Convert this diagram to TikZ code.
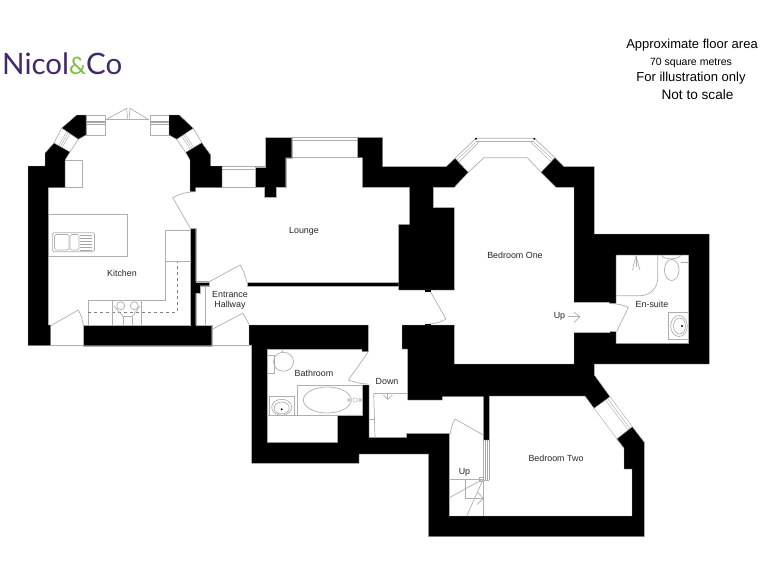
\documentclass[tikz,border=0pt]{standalone}
\usepackage{fontspec}
\usetikzlibrary{calc}
\setmainfont{Liberation Sans}
\newfontfamily\logofont{Lato}
\definecolor{logopurple}{RGB}{66, 42, 104}
\definecolor{logogreen}{RGB}{125, 190, 60}
\definecolor{fixline}{RGB}{175, 175, 175}
\tikzset{
	wall/.style={fill=black, draw=fixline, line width=0.4pt},
	fix/.style={draw=fixline, line width=0.7pt},
	dashfix/.style={draw=gray, line width=0.5pt, dashed},
	pane/.style={draw=gray!70, line width=0.4pt},
	room/.style={font=\fontsize{8.9}{10}\selectfont, text=black!85, inner sep=0pt, align=center},
	note/.style={font=\fontsize{13}{15}\selectfont, inner sep=0pt}
}
\begin{document}
\begin{tikzpicture}[x=1pt, y=-1pt]
			\useasboundingbox (0,0) rectangle (768,576);

			% logo
			\node[inner sep=0pt, anchor=west, font=\logofont\fontsize{29.5}{31}\selectfont, text=logopurple] (logo) at (2,64) {Nicol\textcolor{logogreen}{\fontsize{24}{26}\selectfont\&}Co};

			% notes
			\node[note] (area) at (692,45.5) {Approximate floor area};
			\node[note, font=\fontsize{10.5}{12}\selectfont] (sqm) at (691,63) {70 square metres};
			\node[note] (illus) at (691,78.5) {For illustration only};
			\node[note, font=\fontsize{13.6}{15}\selectfont] (scale) at (697.5,95) {Not to scale};

			% kitchen fittings
			\draw[fix] (65,160) -- (82.3,160) -- (82.3,187.7) -- (48.3,187.7);
			\draw[fix] (48.3,214.3) rectangle (127.3,256);
			\draw[fix, rounded corners=1.5] (52.3,232.7) rectangle (94.5,251.7);
			\draw[fix, rounded corners=1.5] (54.5,234.5) rectangle (69,250);
			\draw[fix, rounded corners=1.5] (70,234.5) rectangle (79,250);
			\foreach \y in {235,238,241,244,247,250} {
				\draw[pane] (80,\y) -- (92,\y);
			}
			\draw[fix] (165,261.7) rectangle (190,230);
			\draw[fix] (88.3,325) -- (88.3,300.7) -- (165,300.7) -- (165,261.7);
			\draw[dashfix] (88.3,312.3) -- (177.3,312.3) -- (177.3,261.7);
			\draw[fix] (112.7,325) -- (112.7,300.7);
			\draw[fix] (141.7,325) -- (141.7,300.7);
			\foreach \x in {120.7,134.3} {
				\draw[fix] (\x,305.7) circle (4);
			}
			\draw[fix] (114,306) -- (123,316.5) -- (132,316.5) -- (140,306);
			\draw[fix] (123,316.5) -- (123,325);
			\draw[fix] (132,316.5) -- (132,325);

			% kitchen doors and windows
			\draw[fix] (50.7,325.7) -- (78.3,310) .. controls (81,315) and (82.5,320) .. (83.3,325);
			\draw[fix] (50.7,345.7) -- (83.3,345.7);
			\draw[fix] (190,227.7) -- (172.7,197.7) .. controls (179,194) and (187,192) .. (195.7,191.7);
			\draw[fix] (86,115) rectangle (105.3,135);
			\draw[fix] (150.3,115) rectangle (169,135);
			\foreach \y in {121,122.5,124} {
				\draw[pane] (86,\y) -- (105.3,\y);
				\draw[pane] (150.3,\y) -- (169,\y);
			}
			\draw[fix] (105.3,119.5) -- (149.3,119.5);
			\draw[fix] (105.3,120) -- (126.7,108.3) -- (127.5,118.5);
			\draw[fix] (149.3,120) -- (130,108.3) -- (129.2,118.5);
			\draw[fix] (61.7,128) -- (54,143);
			\draw[fix] (78.3,139.3) -- (70,152);
			\draw[fix] (176.7,139.3) -- (185.7,152.3);
			\draw[fix] (193.3,128.3) -- (201.7,142.7);
			\foreach \a/\b in {0.3/0.3,0.4/0.4,0.5/0.5} {
				\draw[pane] ($(61.7,128)!\a!(78.3,139.3)$) -- ($(54,143)!\b!(70,152)$);
				\draw[pane] ($(176.7,139.3)!\a!(193.3,128.3)$) -- ($(185.7,152.3)!\b!(201.7,142.7)$);
			}

			% lounge windows
			\draw[fix] (222,187.5) -- (255,187.5);
			\draw[fix] (222,166.4) -- (255,166.4);
			\draw[fix] (222,169) -- (255,169);
			\draw[fix] (291.7,137.6) -- (357.7,137.6);
			\draw[fix] (291.7,140.4) -- (357.7,140.4);
			\draw[fix] (285.7,157.7) -- (362.3,157.7);

			% bedroom one bay
			\draw[fix] (455,158.3) -- (476,138.3) -- (534.3,138.3) -- (555,157.7);
			\draw[fix] (476,141) -- (534.3,141);
			\draw[pane] (457,160) -- (477,141);
			\draw[pane] (459,162) -- (479,142);
			\draw[pane] (553,159.5) -- (532.5,141);
			\draw[pane] (551,161.5) -- (530.5,142);
			\draw[fix] (468.3,172.3) -- (484,157.7) -- (527.3,157.7) -- (541,172.3);
			\fill (476,138.8) circle (1.1);
			\fill (534.3,138.8) circle (1.1);

			% walls
			\fill[wall] (28,166) -- (45,166) -- (45,153) -- (54,143) -- (70,152) -- (65,160) -- (65,187.7) -- (48.3,187.7) -- (48.3,325) -- (50.7,325) -- (50.7,345.7) -- (28,345.7) -- cycle;
			\fill[wall] (61.7,128) -- (76.7,115) -- (86,115) -- (86,135) -- (78.3,139.3) -- cycle;
			\fill[wall] (169,115) -- (179.3,115) -- (193.3,128.3) -- (176.7,139.3) -- (169,135) -- cycle;
			\fill[wall] (185.7,152.3) -- (201.7,142.7) -- (210.7,155) -- (210.7,166) -- (222,166) -- (222,187.5) -- (195.7,187.5) -- (195.7,191.7) -- (190,191.7) -- (190,160) -- cycle;
			\fill[wall] (83.3,325) -- (190,325) -- (190,228.3) -- (195.7,228.3) -- (195.7,281.7) -- (209.3,281.7) -- (209.3,285.7) -- (200,285.7) -- (200,293.3) -- (195.7,293.3) -- (195.7,325) -- (211.7,325) -- (211.7,345.7) -- (83.3,345.7) -- cycle;
			\fill[wall] (246.7,281.7) rectangle (399,285.7);
			\fill[wall] (398.7,224.3) -- (409.3,224.3) -- (409.3,187.3) -- (362.3,187.3) -- (362.3,157.7) -- (357.7,157.7) -- (357.7,137.3) -- (382.7,137.3) -- (382.7,166.7) -- (446,166.7) -- (455,158.3) -- (468.3,172.3) -- (454.3,187.3) -- (433.3,187.3) -- (433.3,207.7) -- (454.3,207.7) -- (454.3,290) -- (398.7,290) -- cycle;
			\fill[wall] (265,137.3) -- (291.7,137.3) -- (291.7,157.7) -- (285.7,157.7) -- (285.7,187.3) -- (276,187.3) -- (276,197.3) -- (264,197.3) -- (264,187.3) -- (255,187.3) -- (255,166.7) -- (265,166.7) -- cycle;
			\fill[wall] (249,325) -- (368.3,325) -- (368.3,351.7) -- (362,351.7) -- (362,349.3) -- (267.3,349.3) -- (267.3,442.3) -- (337.7,442.3) -- (337.7,415) -- (362.7,415) -- (362.7,385) -- (369,385) -- (369,437.3) -- (406.7,437.3) -- (406.7,433.3) -- (449.3,433.3) -- (449.3,516) -- (632,516) -- (632,469) -- (624,469) -- (624,448.3) -- (616.7,439) -- (632.3,426.7) -- (644.3,442.3) -- (644.3,536.7) -- (428.3,536.7) -- (428.3,454) -- (359,454) -- (359,463.3) -- (251.7,463.3) -- (251.7,345) -- (249,345) -- cycle;
			\fill[wall] (402,325) -- (454.3,325) -- (454.3,364) -- (574,364) -- (574,332.7) -- (610,332.7) -- (610,331.7) -- (616,331.7) -- (616,343.3) -- (688.7,343.3) -- (688.7,255) -- (616,255) -- (616,303.5) -- (609.3,303.5) -- (609.3,302.3) -- (574,302.3) -- (574,187.3) -- (556,187.3) -- (541,172.3) -- (555,157.5) -- (564,166.7) -- (594.3,166.7) -- (594.3,234) -- (709.3,234) -- (709.3,364) -- (594.3,364) -- (594.3,375) -- (610,396.7) -- (594,408.3) -- (585,396) -- (489.3,396) -- (489.3,440) -- (483.3,440) -- (483.3,396.7) -- (442.3,396.7) -- (442.3,400) -- (407.7,400) -- (407.7,349) -- (402,349) -- cycle;

			% hallway
			\draw[fix] (205.7,285.7) -- (205.7,325);
			\draw[fix] (209.3,281.7) -- (240,265) .. controls (243.5,270) and (245.5,276) .. (246.7,281.7);
			\draw[fix] (212.7,329) -- (242.7,313.3) .. controls (246,318) and (248,322) .. (249,325);
			\draw[fix] (211.7,345.7) -- (251,345.7);
			\draw[fix] (430,291) -- (446,319) .. controls (440,323) and (432,324) .. (425,324.5);
			\fill (425,290) rectangle (431,291.5);
			\fill (425,323.5) rectangle (431,325);

			% bathroom fittings
			\draw[fix] (267.3,355) -- (274,355) -- (274,373) -- (267.3,373);
			\draw[fix] (283.5,361.7) ellipse (10 and 9.5);
			\draw[fix] (282,349.3) -- (282.5,352);
			\draw[fix] (368,352.3) -- (348.3,380) .. controls (354,382) and (361,384) .. (368,384);
			\draw[fix] (297.3,385) rectangle (362.7,415);
			\draw[fix] (327.3,400) ellipse (24 and 13);
			\draw[pane] (355,400) circle (2.2);
			\draw[pane] (349,400) circle (1.5);
			\draw[pane] (360,400) circle (1.5);
			\draw[fix] (269,396.7) rectangle (294.3,415);
			\draw[fix] (281.7,407.3) ellipse (10 and 8);
			\draw[fix] (281.7,408) ellipse (7.5 and 6);
			\fill (281.7,409.3) circle (1.1);
			\draw[fix] (267.3,415) -- (297.3,415);

			% stairs down
			\draw[fix] (373.7,393.3) -- (407.7,393.3);
			\draw[fix] (373.7,393.3) -- (375,437.3);
			\draw[fix] (369,419) -- (375,419);
			\draw[fix] (387.7,393.3) -- (387.7,399.3);
			\draw[fix] (383.3,395) -- (387.7,399.3) -- (392.3,395);

			% bedroom two window
			\draw[pane] (594,408.3) -- (624,448.3);
			\draw[pane] (610,396.7) -- (632.3,426.7);
			\draw[pane] (607.5,398.5) -- (630,428.5);
			\draw[pane] (605.5,400) -- (628,430);

			% stairs up
			\draw[fix] (483.3,435) -- (455,419) .. controls (451.5,425) and (450,432) .. (449.3,440);
			\draw[fix] (483.3,440) -- (483.3,516);
			\foreach \x in {485,487,489} {
				\draw[pane] (\x,440) -- (\x,480);
			}
			\draw[fix] (483.3,480) -- (489,480);
			\draw[fix] (449.3,479) -- (483.3,479);
			\draw[fix] (449.3,497.7) -- (483.3,479);
			\draw[fix] (466.7,516) -- (483.3,479);
			\draw[fix] (465.7,479) -- (465.7,498.3) -- (483.3,498.3);
			\draw[fix] (477.3,491.7) -- (483.3,498.3) -- (477.3,504.3);
			\draw[fix] (479.5,477) rectangle (483.3,481);

			% en-suite fittings
			\draw[fix] (616,295.7) -- (640,295.7) .. controls (650,295.7) and (657.7,288) .. (657.7,278.3) -- (657.7,255);
			\draw[fix] (632.5,270) -- (636,256) -- (640,270);
			\draw[fix] (636,256) -- (636,267);
			\draw[fix] (661.7,255) .. controls (662,260) and (680,260) .. (680.7,255);
			\draw[fix] (671.7,270) ellipse (7.3 and 10.5);
			\draw[fix] (680.7,262.7) -- (688.7,262.7);
			\draw[fix] (668.3,312.3) rectangle (688.7,339.3);
			\draw[fix] (679,326) ellipse (8.3 and 10.5);
			\draw[fix] (679.5,326) ellipse (6 and 8);
			\fill (682,326) circle (1.1);

			% en-suite door
			\draw[fix] (574,302.3) -- (609.3,302.3);
			\draw[fix] (574,332.7) -- (610,332.7);
			\draw[fix] (609.3,303.5) .. controls (617,303.5) and (623,305) .. (628.3,307.3) -- (616.7,331.7);
			\draw[fix] (568.3,316.7) -- (580,316.7);
			\draw[fix] (574,312.3) -- (580,316.7) -- (574,322.7);

			% room labels
			\node[room] (kitchen) at (122,273) {Kitchen};
			\node[room] (lounge) at (304,231) {Lounge};
			\node[room] (bedone) at (515,255.5) {Bedroom One};
			\node[room] (ensuite) at (652,304.5) {En-suite};
			\node[room] (bathroom) at (314,373) {Bathroom};
			\node[room] (bedtwo) at (556,458.5) {Bedroom Two};
			\node[room] (hallone) at (230,294) {Entrance};
			\node[room] (halltwo) at (230,304.7) {Hallway};
			\node[room] (down) at (387,381.5) {Down};
			\node[room] (upone) at (559.5,316.5) {Up};
			\node[room] (uptwo) at (464.5,472.5) {Up};
		\end{tikzpicture}
\end{document}
